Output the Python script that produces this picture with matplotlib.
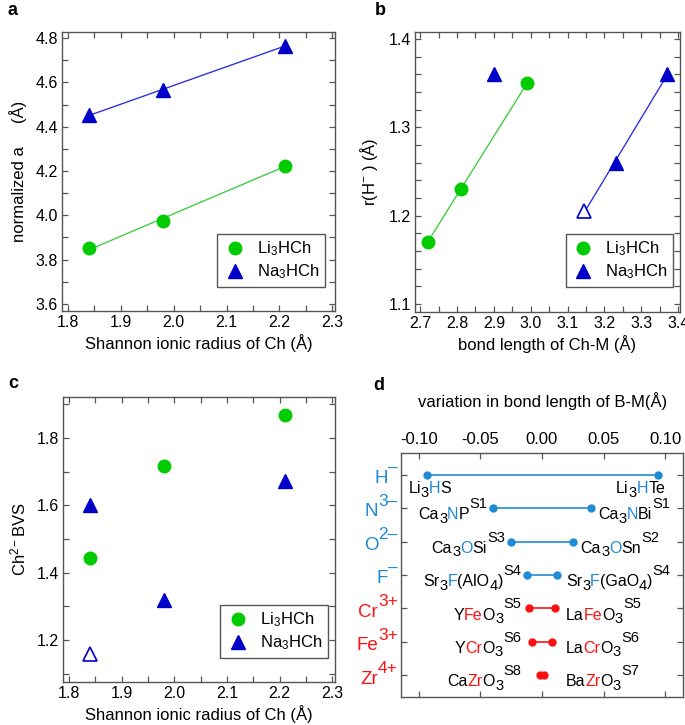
import numpy as np
import matplotlib
matplotlib.use('Agg')
import matplotlib.pyplot as plt
from matplotlib.ticker import MultipleLocator

plt.rcParams['font.family'] = ['Liberation Sans', 'DejaVu Sans']
plt.rcParams['mathtext.fontset'] = 'custom'
plt.rcParams['mathtext.rm'] = 'Liberation Sans'
plt.rcParams['mathtext.it'] = 'Liberation Sans:italic'
plt.rcParams['mathtext.bf'] = 'Liberation Sans:bold'
plt.rcParams['axes.unicode_minus'] = False

# ---------------- data ----------------
ch_radius = [1.84, 1.98, 2.21]
a_li = [3.852, 3.975, 4.225]
a_na = [4.452, 4.568, 4.765]

bond_li = [2.72, 2.81, 2.99]
rH_li = [1.17, 1.23, 1.35]
bond_na = [2.90, 3.23, 3.37]
rH_na = [1.36, 1.26, 1.36]
bond_na_open = [3.145]
rH_na_open = [1.205]

bvs_li = [1.443, 1.718, 1.868]
bvs_na = [1.600, 1.320, 1.672]
bvs_open_r = [1.84]
bvs_na_open = [1.158]

d_row_ion = ['H', 'N', 'O', 'F', 'Cr', 'Fe', 'Zr']
d_row_charge = ['\u2013', '3\u2013', '2\u2013', '\u2013', '3+', '3+', '4+']
d_min = [-0.0937, -0.0396, -0.0252, -0.0122, -0.0106, -0.0084, -0.0015]
d_max = [0.0940, 0.0398, 0.0254, 0.0124, 0.0106, 0.0084, 0.0015]

K = 'black'
BL = '#1f8ad6'
RD = '#ff1010'
# kinds: n = normal, b = subscript, p = superscript
left_labels = [
    [('Li', K, 'n'), ('3', K, 'b'), ('H', BL, 'n'), ('S', K, 'n')],
    [('Ca', K, 'n'), ('3', K, 'b'), ('N', BL, 'n'), ('P', K, 'n'), ('S1', K, 'p')],
    [('Ca', K, 'n'), ('3', K, 'b'), ('O', BL, 'n'), ('Si', K, 'n'), ('S3', K, 'p')],
    [('Sr', K, 'n'), ('3', K, 'b'), ('F', BL, 'n'), ('(AlO', K, 'n'), ('4', K, 'b'),
     (')', K, 'n'), ('S4', K, 'p')],
    [('Y', K, 'n'), ('Fe', RD, 'n'), ('O', K, 'n'), ('3', K, 'b'), ('S5', K, 'p')],
    [('Y', K, 'n'), ('Cr', RD, 'n'), ('O', K, 'n'), ('3', K, 'b'), ('S6', K, 'p')],
    [('Ca', K, 'n'), ('Zr', RD, 'n'), ('O', K, 'n'), ('3', K, 'b'), ('S8', K, 'p')],
]
right_labels = [
    [('Li', K, 'n'), ('3', K, 'b'), ('H', BL, 'n'), ('Te', K, 'n')],
    [('Ca', K, 'n'), ('3', K, 'b'), ('N', BL, 'n'), ('Bi', K, 'n'), ('S1', K, 'p')],
    [('Ca', K, 'n'), ('3', K, 'b'), ('O', BL, 'n'), ('Sn', K, 'n'), ('S2', K, 'p')],
    [('Sr', K, 'n'), ('3', K, 'b'), ('F', BL, 'n'), ('(GaO', K, 'n'), ('4', K, 'b'),
     (')', K, 'n'), ('S4', K, 'p')],
    [('La', K, 'n'), ('Fe', RD, 'n'), ('O', K, 'n'), ('3', K, 'b'), ('S5', K, 'p')],
    [('La', K, 'n'), ('Cr', RD, 'n'), ('O', K, 'n'), ('3', K, 'b'), ('S6', K, 'p')],
    [('Ba', K, 'n'), ('Zr', RD, 'n'), ('O', K, 'n'), ('3', K, 'b'), ('S7', K, 'p')],
]
row_colors = [BL, BL, BL, BL, RD, RD, RD]

# ---------------- style ----------------
GREEN = '#00cc00'
GREEN_L = '#44cc44'
BLUE = '#0000c8'
BLUE_L = '#3333dd'
SPINE = '#555555'
FS_TICK = 11.5
FS_LAB = 12
MS = 9

fig = plt.figure(figsize=(6.85, 7.25), dpi=100)
W, H = 685, 725


def add_ax(l, t, r, b):
    return fig.add_axes([l / W, 1 - b / H, (r - l) / W, (b - t) / H])


def style(ax):
    for s in ax.spines.values():
        s.set_color(SPINE)
        s.set_linewidth(1.0)
    ax.tick_params(which='both', direction='in', top=True, right=True,
                   color=SPINE, labelsize=FS_TICK, pad=3, width=0.9)
    ax.tick_params(which='major', length=4)
    ax.tick_params(which='minor', length=4)


def legend(ax, x, y):
    lg = ax.legend(loc='lower right', bbox_to_anchor=(x, y), borderaxespad=0,
                   fontsize=FS_LAB, frameon=True, fancybox=False,
                   handlelength=1.4, handletextpad=0.6, borderpad=0.35,
                   labelspacing=0.25, framealpha=1)
    lg.get_frame().set_edgecolor(SPINE)
    lg.get_frame().set_linewidth(1.0)


def fitline(ax, x, y, color):
    p = np.polyfit(x, y, 1)
    xs = np.array([min(x), max(x)])
    ax.plot(xs, np.polyval(p, xs), color=color, lw=1.0, zorder=2)


# ---------------- panel a ----------------
ax = add_ax(62, 32, 335, 311)
fitline(ax, ch_radius, a_li, GREEN_L)
fitline(ax, ch_radius, a_na, BLUE_L)
ax.plot(ch_radius, a_li, 'o', color=GREEN, ms=MS, mec=GREEN, ls='none',
        label='Li$_3$HCh', zorder=3)
ax.plot(ch_radius, a_na, '^', color=BLUE, ms=MS + 1, mec=BLUE, ls='none',
        label='Na$_3$HCh', zorder=3)
ax.set_xlim(1.789, 2.305)
ax.set_ylim(3.568, 4.828)
ax.xaxis.set_major_locator(MultipleLocator(0.1))
ax.xaxis.set_minor_locator(MultipleLocator(0.05))
ax.yaxis.set_major_locator(MultipleLocator(0.2))
ax.yaxis.set_minor_locator(MultipleLocator(0.1))
style(ax)
ax.set_xlabel('Shannon ionic radius of Ch (Å)', fontsize=FS_LAB, labelpad=3)
ax.set_ylabel('normalized a     (Å)', fontsize=FS_LAB, labelpad=6)
legend(ax, 0.963, 0.086)

# ---------------- panel b ----------------
ax = add_ax(415, 32, 680, 312)
fitline(ax, bond_li, rH_li, GREEN_L)
fitline(ax, bond_na_open + bond_na[1:], rH_na_open + rH_na[1:], BLUE_L)
ax.plot(bond_li, rH_li, 'o', color=GREEN, ms=MS, mec=GREEN, ls='none',
        label='Li$_3$HCh', zorder=3)
ax.plot(bond_na, rH_na, '^', color=BLUE, ms=MS + 1, mec=BLUE, ls='none',
        label='Na$_3$HCh', zorder=3)
ax.plot(bond_na_open, rH_na_open, '^', mfc='white', mec=BLUE, ms=MS + 1,
        mew=1.2, ls='none', zorder=3)
ax.set_xlim(2.686, 3.405)
ax.set_ylim(1.091, 1.408)
ax.xaxis.set_major_locator(MultipleLocator(0.1))
ax.xaxis.set_minor_locator(MultipleLocator(0.05))
ax.yaxis.set_major_locator(MultipleLocator(0.1))
ax.yaxis.set_minor_locator(MultipleLocator(0.02))
style(ax)
ax.set_xlabel('bond length of Ch-M (Å)', fontsize=FS_LAB, labelpad=3)
ax.set_ylabel(r'r(H$^{-}$ ) (Å)', fontsize=FS_LAB, labelpad=6)
legend(ax, 0.974, 0.089)

# ---------------- panel c ----------------
ax = add_ax(63, 397, 335, 682)
ax.plot(ch_radius, bvs_li, 'o', color=GREEN, ms=MS, mec=GREEN, ls='none',
        label='Li$_3$HCh', zorder=3)
ax.plot(ch_radius, bvs_na, '^', color=BLUE, ms=MS + 1, mec=BLUE, ls='none',
        label='Na$_3$HCh', zorder=3)
ax.plot(bvs_open_r, bvs_na_open, '^', mfc='white', mec=BLUE, ms=MS + 1,
        mew=1.2, ls='none', zorder=3)
ax.set_xlim(1.789, 2.305)
ax.set_ylim(1.075, 1.922)
ax.xaxis.set_major_locator(MultipleLocator(0.1))
ax.xaxis.set_minor_locator(MultipleLocator(0.05))
ax.yaxis.set_major_locator(MultipleLocator(0.2))
ax.yaxis.set_minor_locator(MultipleLocator(0.1))
style(ax)
ax.set_xlabel('Shannon ionic radius of Ch (Å)', fontsize=FS_LAB, labelpad=3)
ax.set_ylabel(r'Ch$^{2-}$BVS', fontsize=FS_LAB, labelpad=6)
legend(ax, 0.974, 0.084)

# ---------------- panel d ----------------
ax = add_ax(401, 453, 683, 697)
ypos = np.arange(len(d_row_ion))
for i in range(len(d_row_ion)):
    ax.plot([d_min[i], d_max[i]], [ypos[i], ypos[i]], '-o',
            color=row_colors[i], lw=1.2, ms=5, zorder=3)
ax.set_xlim(-0.1146, 0.1146)
ax.set_ylim(6.65, -0.65)
ax.set_xticks([-0.10, -0.05, 0.0, 0.05, 0.10])
ax.set_xticklabels(['-0.10', '-0.05', '0.00', '0.05', '0.10'])
ax.set_yticks(ypos)
ax.set_yticklabels([])
for s in ax.spines.values():
    s.set_color(SPINE)
    s.set_linewidth(1.0)
ax.tick_params(direction='in', top=True, bottom=True, left=True, right=True,
               labeltop=True, labelbottom=False, color=SPINE, length=4,
               width=0.9)
ax.tick_params(axis='x', labelsize=12, pad=4)
fig.text(543 / W, 1 - 401 / H, 'variation in bond length of B-M(Å)',
         fontsize=12, ha='center', va='center')

FS_C = 11.5
SIZES = {'n': 1.0, 'b': 0.92, 'p': 0.92}
SHIFTS = {'n': 0.0, 'b': -2.5, 'p': 8.0}


def rich(ax, x, y, pieces, ha, dy, fs=FS_C, xcoord='data', shifts=SHIFTS):
    seq = pieces if ha == 'left' else list(reversed(pieces))
    ref = None
    for s, c, kind in seq:
        size = fs * SIZES[kind]
        off = (0, dy + shifts[kind])
        if ref is None:
            t = ax.annotate(s, xy=(x, y), xycoords=(xcoord, 'data'),
                            xytext=off, textcoords='offset points', ha=ha,
                            va='baseline', color=c, fontsize=size,
                            annotation_clip=False)
        else:
            t = ax.annotate(s, xy=(1 if ha == 'left' else 0, y),
                            xycoords=(ref, 'data'), xytext=off,
                            textcoords='offset points', ha=ha,
                            va='baseline', color=c, fontsize=size,
                            annotation_clip=False)
        ref = t


row_shifts = {'n': 0.0, 'b': 0.0, 'p': 7.5}
for i in range(len(d_row_ion)):
    # row label (ion + charge)
    rich(ax, -0.012, ypos[i],
         [(d_row_ion[i], row_colors[i], 'n'), (d_row_charge[i], row_colors[i], 'p')],
         'right', -6.0, fs=13.5, xcoord='axes fraction', shifts=row_shifts)
    if i == 0:
        rich(ax, d_min[i] - 0.015, ypos[i], left_labels[i], 'left', -13.5)
        rich(ax, d_max[i] + 0.006, ypos[i], right_labels[i], 'right', -13.5)
    else:
        xl = min(d_min[i] - 0.005, -0.017)
        xr = max(d_max[i] + 0.006, 0.0195)
        rich(ax, xl, ypos[i], left_labels[i], 'right', -8.0)
        rich(ax, xr, ypos[i], right_labels[i], 'left', -8.0)

# panel letters
for lab, x, y in [('a', 7, 15), ('b', 375, 15), ('c', 8, 388), ('d', 373, 390)]:
    fig.text(x / W, 1 - y / H, lab, fontsize=13, fontweight='bold',
             va='baseline', ha='left')

fig.savefig('out.png', dpi=100)
